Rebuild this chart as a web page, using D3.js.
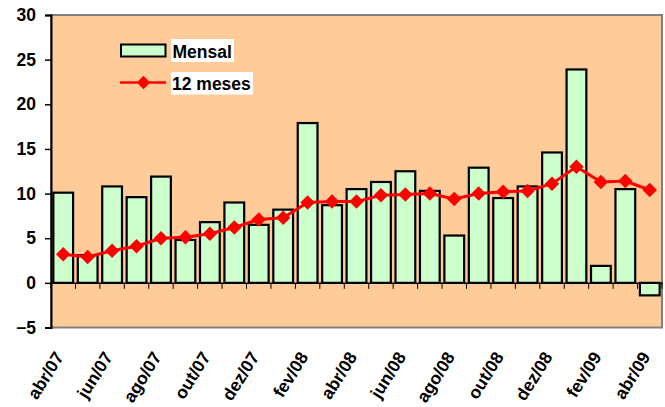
<!DOCTYPE html>
<html><head><meta charset="utf-8">
<script src="https://cdn.jsdelivr.net/npm/d3@7/dist/d3.min.js"></script>
<style>
html,body{margin:0;padding:0;background:#fff;}
svg{display:block;font-family:"Liberation Sans",Arial,sans-serif;}
</style></head>
<body><svg id="c" width="665" height="407"></svg>
<script>
const months = ["abr/07","mai/07","jun/07","jul/07","ago/07","set/07","out/07","nov/07","dez/07","jan/08","fev/08","mar/08","abr/08","mai/08","jun/08","jul/08","ago/08","set/08","out/08","nov/08","dez/08","jan/09","fev/09","mar/09","abr/09"];
const mensal = [10.1, 3.1, 10.8, 9.6, 11.9, 4.8, 6.8, 9.0, 6.5, 8.2, 17.9, 8.7, 10.5, 11.3, 12.5, 10.3, 5.3, 12.9, 9.5, 10.8, 14.6, 23.9, 1.9, 10.5, -1.4];
const doze = [3.2, 2.9, 3.6, 4.1, 5.0, 5.1, 5.5, 6.2, 7.1, 7.3, 9.0, 9.1, 9.1, 9.8, 9.9, 10.0, 9.4, 10.0, 10.2, 10.3, 11.1, 13.0, 11.3, 11.4, 10.4];
const tickLabels = ["abr/07","jun/07","ago/07","out/07","dez/07","fev/08","abr/08","jun/08","ago/08","out/08","dez/08","fev/09","abr/09"];
const yTicks = [-5, 0, 5, 10, 15, 20, 25, 30];
const seriesNames = ["Mensal", "12 meses"];

const svg = d3.select("#c");
const L = 51, R = 662, T = 15, B = 327.5;

const x = d3.scaleBand().domain(months).range([L, R]).paddingInner(0.11).paddingOuter(0.055);
const x0 = d3.scaleBand().domain(months).range([L, R]).padding(0);
const y = d3.scaleLinear().domain([-5, 30]).range([B, T]);

// plot area
svg.append("rect").attr("x", L).attr("y", T).attr("width", R - L).attr("height", B - T)
  .attr("fill", "#FFCC99").attr("stroke", "#808080").attr("stroke-width", 2);

// y axis
const yAxis = d3.axisLeft(y).tickValues(yTicks).tickSize(6).tickPadding(9).tickFormat(d3.format("d"));
const gy = svg.append("g").attr("transform", `translate(${L},0)`).call(yAxis);
gy.select(".domain").attr("stroke", "#000").attr("stroke-width", 2);
gy.selectAll(".tick line").attr("stroke", "#000").attr("stroke-width", 1.5);
gy.selectAll(".tick text").attr("font-size", 17.5).attr("font-weight", "bold").attr("fill", "#000")
  .attr("font-family", "Liberation Sans, Arial, sans-serif");

// bars
svg.append("g").selectAll("rect").data(mensal).join("rect")
  .attr("x", (d, i) => x(months[i]) + 1)
  .attr("width", x.bandwidth() - 2)
  .attr("y", d => y(Math.max(0, d)))
  .attr("height", d => Math.abs(y(d) - y(0)))
  .attr("fill", "#CCFFCC").attr("stroke", "#000").attr("stroke-width", 2.2);

// zero axis with ticks between categories
const xAxis = d3.axisBottom(x0).tickSize(0).tickFormat("");
const gx = svg.append("g").attr("transform", `translate(0,${y(0)})`).call(xAxis);
gx.select(".domain").attr("stroke", "#000").attr("stroke-width", 1.5);
svg.append("g").selectAll("line").data(d3.range(months.length + 1)).join("line")
  .attr("x1", i => L + i * x0.step()).attr("x2", i => L + i * x0.step())
  .attr("y1", y(0)).attr("y2", y(0) + 6)
  .attr("stroke", "#000").attr("stroke-width", 1);

// line series
const line = d3.line().x((d, i) => x0(months[i]) + x0.bandwidth() / 2).y(d => y(d));
svg.append("path").datum(doze).attr("d", line).attr("fill", "none")
  .attr("stroke", "#FF0000").attr("stroke-width", 3);
const sym = d3.symbol(d3.symbolSquare, 105);
svg.append("g").selectAll("path").data(doze).join("path")
  .attr("d", sym)
  .attr("transform", (d, i) => `translate(${x0(months[i]) + x0.bandwidth() / 2},${y(d)}) rotate(45)`)
  .attr("fill", "#FF0000");

// x labels
svg.append("g").selectAll("text").data(tickLabels).join("text")
  .attr("transform", d => `translate(${x0(d) + x0.bandwidth() / 2 - 4},${B + 26}) rotate(-58)`)
  .attr("text-anchor", "end").attr("dy", "0.35em")
  .attr("font-size", 17.5).attr("font-weight", "bold").attr("fill", "#000")
  .text(d => d);

// legend
const lg = svg.append("g");
lg.append("rect").attr("x", 121).attr("y", 44.5).attr("width", 44.5).attr("height", 12)
  .attr("fill", "#CCFFCC").attr("stroke", "#000").attr("stroke-width", 2);
lg.append("rect").attr("x", 171).attr("y", 39).attr("width", 63).attr("height", 23).attr("fill", "#fff");
lg.append("text").attr("x", 172.5).attr("y", 57.5).attr("font-size", 17.5).attr("font-weight", "bold").text(seriesNames[0]);
lg.append("line").attr("x1", 120).attr("x2", 166).attr("y1", 82.5).attr("y2", 82.5)
  .attr("stroke", "#FF0000").attr("stroke-width", 2.5);
lg.append("path").attr("d", d3.symbol(d3.symbolSquare, 90)).attr("transform", "translate(143.5,82.5) rotate(45)").attr("fill", "#FF0000");
lg.append("rect").attr("x", 171).attr("y", 72).attr("width", 82).attr("height", 22.5).attr("fill", "#fff");
lg.append("text").attr("x", 172).attr("y", 90).attr("font-size", 17.5).attr("font-weight", "bold").text(seriesNames[1]);
</script>
</body></html>
